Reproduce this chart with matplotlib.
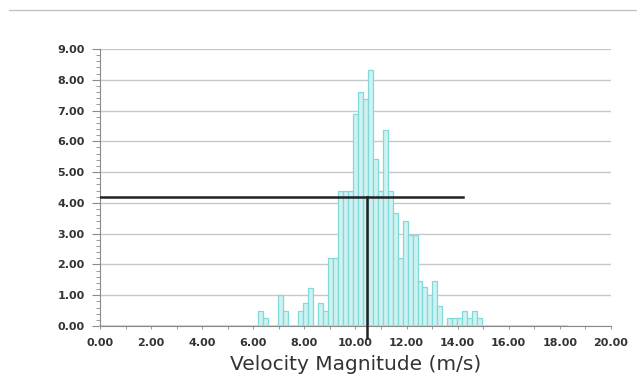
import matplotlib.pyplot as plt
import matplotlib.ticker as mticker
from matplotlib.lines import Line2D
import numpy as np

# histogram (bin width ~0.195 m/s)
bin_start = 6.19
bin_width = 0.195
counts = [0.50, 0.25, 0.00, 0.00, 1.00, 0.50, 0.00, 0.00, 0.50, 0.75,
          1.23, 0.00, 0.75, 0.50, 2.20, 2.20, 4.40, 4.40, 4.40, 6.88,
          7.60, 7.39, 8.33, 5.41, 4.40, 6.38, 4.40, 3.68, 2.22, 3.42,
          2.95, 2.95, 1.47, 1.28, 1.00, 1.47, 0.65, 0.00, 0.25, 0.25,
          0.25, 0.50, 0.25, 0.50, 0.25]
hist_range = (0.0, 18.3)   # cyan baseline of the empty bins

# crosshair
mark_x = 10.46
mark_y = 4.18
hline_end = 14.2

fig = plt.figure(figsize=(6.37, 3.77), dpi=100)
ax = fig.add_axes([0.157, 0.1353, 0.802, 0.7347])

lefts = bin_start + bin_width * np.arange(len(counts))
ax.bar(lefts, counts, width=bin_width, align="edge",
       facecolor="#cef2f2", edgecolor="#80dada", linewidth=0.9, zorder=2)
ax.plot(hist_range, [0, 0], color="#9fe3e3", lw=1.2, zorder=2.5, clip_on=False)

# black crosshair
ax.plot([0, hline_end], [mark_y, mark_y], color="#222222", lw=1.8, zorder=4)
ax.plot([mark_x, mark_x], [-0.4, mark_y], color="#222222", lw=1.8,
        zorder=4, clip_on=False)

ax.set_xlim(0, 20)
ax.set_ylim(0, 9)

ax.yaxis.set_major_locator(mticker.MultipleLocator(1))
ax.yaxis.set_minor_locator(mticker.MultipleLocator(0.2))
ax.xaxis.set_major_locator(mticker.MultipleLocator(2))
ax.xaxis.set_minor_locator(mticker.MultipleLocator(1))
ax.yaxis.set_major_formatter(mticker.FormatStrFormatter("%.2f"))
ax.xaxis.set_major_formatter(mticker.FormatStrFormatter("%.2f"))

ax.grid(axis="y", which="major", color="#c8c8c8", lw=1.0, zorder=0)
ax.set_axisbelow(True)

for s in ["top", "right"]:
    ax.spines[s].set_visible(False)
ax.spines["left"].set_color("#8a8a8a")
ax.spines["bottom"].set_color("#8a8a8a")

ax.tick_params(axis="y", which="major", length=6, width=0.8, color="#8a8a8a",
               pad=5, labelsize=8, labelcolor="#333333")
ax.tick_params(axis="y", which="minor", length=3, width=0.6, color="#8a8a8a")
ax.tick_params(axis="x", which="both", length=2.5, width=0.6, color="#8a8a8a",
               pad=6, labelsize=8, labelcolor="#333333")
for lab in ax.get_xticklabels() + ax.get_yticklabels():
    lab.set_fontweight("bold")

ax.set_xlabel("Velocity Magnitude (m/s)", fontsize=14.5, color="#333333",
              labelpad=5)

# separator line at the top of the picture
fig.add_artist(Line2D([0.014, 1.0], [0.9735, 0.9735], color="#c4c4c4", lw=1.0))

fig.savefig("out.png", dpi=100, facecolor="white")
